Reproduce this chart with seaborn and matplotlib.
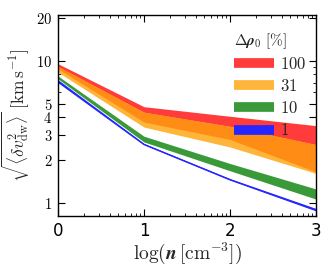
import numpy as np
import pandas as pd
import matplotlib
matplotlib.use("Agg")
import matplotlib.pyplot as plt
import seaborn as sns
from matplotlib.lines import Line2D
from matplotlib.ticker import FixedLocator, FuncFormatter, NullFormatter

# ---- data ----
log_n = [0, 1, 2, 3]
band100_hi = [9.50, 4.75, 4.07, 3.50]
band100_lo = [8.75, 3.71, 2.80, 1.66]
band31_hi = [9.10, 4.35, 3.46, 2.58]
band31_lo = [8.30, 3.42, 2.48, 1.62]
band10_hi = [7.80, 2.95, 1.90, 1.26]
band10_lo = [7.45, 2.69, 1.69, 1.07]
band1_hi = [7.35, 2.63, 1.49, 0.92]
band1_lo = [7.08, 2.58, 1.46, 0.89]
legend_labels = ["100", "31", "10", "1"]
ytick_vals = [1, 2, 3, 4, 5, 10, 20]
xtick_vals = [0, 1, 2, 3]

sns.set_theme(style="ticks")
plt.rcParams["mathtext.fontset"] = "cm"
plt.rcParams["font.family"] = ["DejaVu Sans"]

c_red = "#ff3b3b"
c_lorange = "#ffb43a"
c_dorange = "#ff8c14"
c_green = "#3a9a3a"
c_blue = "#2626ff"

fig = plt.figure(figsize=(3.31, 2.70), dpi=100)
ax = fig.add_axes([0.175, 0.2, 0.78, 0.744])

x = np.array(log_n)
ax.fill_between(x, band100_lo, band100_hi, color=c_red, lw=0)
ax.fill_between(x, band31_lo, band31_hi, color=c_lorange, lw=0)
ov_hi = np.minimum(band100_hi, band31_hi)
ov_lo = np.maximum(band100_lo, band31_lo)
ax.fill_between(x, ov_lo, ov_hi, color=c_dorange, lw=0)
ax.fill_between(x, band10_lo, band10_hi, color=c_green, lw=0)
ax.fill_between(x, band1_lo, band1_hi, color=c_blue, lw=0)
df1 = pd.DataFrame({"x": log_n, "y": band1_lo})
sns.lineplot(data=df1, x="x", y="y", ax=ax, color=c_blue, lw=1.0)

ax.set_yscale("log")
ax.set_ylim(0.815, 20.8)
ax.set_xlim(0, 3)

ax.yaxis.set_major_locator(FixedLocator(ytick_vals))
ax.yaxis.set_major_formatter(FuncFormatter(lambda v, p: r"$\mathbf{%d}$" % round(v)))
ax.yaxis.set_minor_locator(FixedLocator([6, 7, 8, 9]))
ax.yaxis.set_minor_formatter(NullFormatter())
ax.xaxis.set_major_locator(FixedLocator(xtick_vals))
ax.set_xticklabels([str(v) for v in xtick_vals])
minx = [d + np.log10(k) for d in range(3) for k in range(2, 10)]
ax.xaxis.set_minor_locator(FixedLocator(minx))

ax.tick_params(which="both", direction="in", top=True, right=True, colors="black")
ax.tick_params(which="major", length=5, width=0.8, pad=4)
ax.tick_params(axis="x", labelsize=12)
ax.tick_params(axis="y", labelsize=10.5)
ax.tick_params(which="minor", length=2.5, width=0.6)
for s in ax.spines.values():
    s.set_linewidth(1.0)
    s.set_color("black")

ax.set_xlabel(r"$\log(\boldsymbol{n}\,[\mathrm{cm}^{-3}])$", fontsize=14, labelpad=1)
ax.set_ylabel(r"$\sqrt{\langle \delta v_{\rm dw}^{2}\rangle}\ [\mathrm{km\,s^{-1}}]$",
              fontsize=12.5, labelpad=3)

handles = [Line2D([0], [0], color=c, lw=7, solid_capstyle="butt")
           for c in [c_red, c_lorange, c_green, c_blue]]
leg = ax.legend(handles, [r"$\mathbf{%s}$" % s for s in legend_labels],
                title=r"$\mathbf{\Delta}\boldsymbol{\rho}_0\ [\%]$",
                loc="upper right", frameon=False, fontsize=12, title_fontsize=11,
                handlelength=2.4, handletextpad=0.35, labelspacing=0.25,
                borderaxespad=0.2, bbox_to_anchor=(1.0, 0.97))
leg._legend_box.align = "left"

fig.savefig("out.png", dpi=100)
